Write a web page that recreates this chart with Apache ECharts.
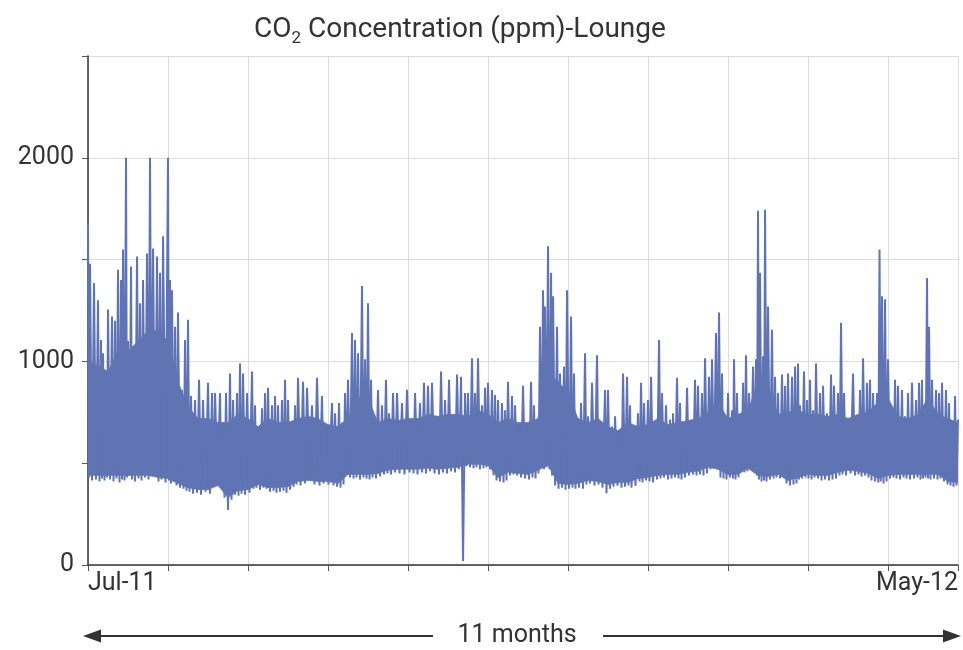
<!DOCTYPE html>
<html><head><meta charset="utf-8">
<script src="https://cdn.jsdelivr.net/npm/echarts/dist/echarts.min.js"></script>
<style>html,body{margin:0;padding:0;background:#fff}#c{width:963px;height:650px}</style>
</head><body><div id="c"></div>
<script>
// time of each daily peak, in months since the start of Jul-11
const peakMonth = [
0.000,0.025,0.075,0.125,0.163,0.188,0.225,0.250,0.300,0.338,
0.375,0.413,0.438,0.475,0.500,0.538,0.563,0.613,0.650,0.688,
0.738,0.775,0.813,0.863,0.900,0.938,1.000,1.025,1.050,1.088,
1.125,1.175,1.213,1.250,1.288,1.338,1.388,1.438,1.500,1.550,
1.588,1.650,1.688,1.725,1.775,1.813,1.863,1.900,1.938,1.988,
2.050,2.088,2.125,2.175,2.213,2.250,2.300,2.338,2.375,2.425,
2.463,2.500,2.550,2.588,2.625,2.688,2.738,2.800,2.863,2.925,
2.963,3.050,3.088,3.138,3.175,3.213,3.250,3.300,3.338,3.375,
3.425,3.463,3.500,3.538,3.575,3.625,3.675,3.725,3.763,3.813,
3.863,3.925,3.988,4.050,4.088,4.150,4.200,4.250,4.300,4.363,
4.413,4.463,4.513,4.563,4.613,4.663,4.713,4.750,4.800,4.838,
4.875,4.925,4.963,5.000,5.050,5.088,5.125,5.175,5.213,5.250,
5.300,5.338,5.388,5.438,5.488,5.538,5.575,5.613,5.650,5.688,
5.713,5.750,5.788,5.813,5.863,5.900,5.950,5.988,6.038,6.075,
6.113,6.163,6.213,6.250,6.300,6.363,6.400,6.463,6.500,6.550,
6.588,6.650,6.688,6.738,6.775,6.813,6.875,6.913,6.950,7.000,
7.038,7.088,7.138,7.175,7.225,7.275,7.313,7.363,7.400,7.438,
7.488,7.538,7.588,7.625,7.675,7.713,7.763,7.800,7.850,7.888,
7.925,7.963,8.000,8.050,8.075,8.113,8.150,8.188,8.225,8.263,
8.313,8.350,8.375,8.400,8.438,8.463,8.500,8.550,8.588,8.625,
8.675,8.713,8.750,8.800,8.838,8.875,8.900,8.950,8.988,9.025,
9.063,9.100,9.150,9.188,9.238,9.288,9.325,9.375,9.413,9.450,
9.500,9.563,9.613,9.650,9.688,9.738,9.775,9.813,9.863,9.894,
9.925,9.963,10.000,10.050,10.088,10.125,10.175,10.213,10.250,10.300,
10.350,10.388,10.425,10.450,10.488,10.513,10.550,10.600,10.638,10.675,
10.725,10.763,10.800,10.838,10.875
];
// CO2 peak of each cycle (ppm)
const peakPpm = [
1680,1480,1385,1300,1105,1040,940,1255,1220,1200,
1450,1400,1550,2000,1100,1465,975,1515,1285,1400,
1530,2000,1555,1515,1435,1615,2000,1400,1350,1170,
1240,860,1105,1205,830,810,910,810,895,845,
845,845,700,845,940,810,845,990,940,845,
950,785,640,770,845,870,785,830,785,810,
910,810,540,785,920,900,870,785,920,830,
665,795,745,795,700,845,910,1140,1105,1040,
1370,1010,1285,910,615,860,785,910,745,845,
845,795,860,680,845,795,895,880,895,700,
950,810,910,730,935,925,845,845,1015,845,
1015,785,870,895,860,835,810,795,760,900,
830,785,680,880,630,900,785,700,1170,1350,
1270,1565,1435,1320,1170,940,975,1350,1220,940,
700,795,1040,730,895,1030,700,860,860,680,
730,665,940,925,785,615,745,895,795,810,
925,700,1105,845,785,715,745,920,795,700,
870,700,910,880,845,1015,925,1010,1140,1240,
940,700,845,760,1010,845,700,895,1030,845,
975,1010,1740,1435,1025,1745,1270,1155,925,845,
935,880,940,925,975,990,785,950,810,910,
760,990,845,880,745,935,880,845,1190,845,
715,940,730,860,1015,895,910,845,845,1550,
1320,1305,1010,745,910,880,860,730,845,895,
810,895,910,680,1410,1170,910,860,845,895,
860,795,700,830,715
];
// CO2 low between consecutive peaks (ppm)
const troughPpm = [
430,415,420,410,425,415,430,420,410,425,
405,420,415,430,460,420,410,425,415,430,
420,475,440,410,420,405,415,400,410,390,
380,375,365,360,350,355,345,360,350,390,
395,385,330,270,320,345,340,350,345,355,
375,380,370,380,375,360,365,355,360,365,
355,370,385,395,390,400,460,395,390,400,
395,390,385,380,395,460,430,425,430,420,
430,425,420,430,425,435,445,450,445,455,
450,445,455,450,445,455,450,460,450,445,
455,450,460,455,470,20,485,480,475,480,
470,475,480,470,440,415,410,405,415,440,
445,440,430,425,420,430,425,450,475,470,
480,470,440,390,375,380,370,375,380,375,
380,375,395,400,390,395,380,352,375,385,
390,380,385,390,380,390,410,405,415,410,
405,420,425,430,420,425,430,425,420,430,
440,445,440,445,440,450,470,475,470,430,
425,420,430,425,420,430,460,455,460,465,
455,440,420,410,415,410,420,425,430,425,
430,400,390,395,400,420,425,430,425,420,
430,425,415,420,415,420,425,440,445,440,
450,440,445,435,440,430,415,410,405,410,
400,410,425,430,425,420,430,425,420,425,
430,420,425,430,425,420,425,420,425,410,
395,390,385,390
];
// solid body of the trace, read every eighth of a month from Jul-11
const coreStepMonth = 0.125;
const coreHighPpm = [
1000,980,950,1050,1050,1100,1150,1150,1100,900,
780,720,720,700,700,740,720,680,720,700,
700,720,730,720,690,680,720,820,820,700,
720,710,720,720,740,730,740,740,730,760,
740,700,720,700,700,720,950,900,850,720,
700,720,680,660,700,680,690,720,690,700,
710,720,750,800,720,740,760,900,880,740,
750,760,740,740,730,740,720,740,750,800,
820,730,720,740,820,740,720,700
];
const coreLowPpm = [
440,440,440,440,440,440,440,430,425,400,
380,370,370,390,330,365,370,395,380,380,
385,410,415,410,410,400,445,445,445,450,
465,470,470,470,475,470,475,480,495,495,
490,430,455,450,445,465,490,400,395,400,
415,410,395,405,405,425,430,440,445,445,
455,460,480,470,445,445,475,440,435,445,
415,430,445,440,440,455,465,460,450,425,
440,445,445,445,445,445,410,405
];
const yLabelValues = [0, 1000, 2000];
const xFirstLabel = 'Jul-11';
const xLastLabel = 'May-12';
const spanText = '11 months';
const titleMain = 'CO';
const titleSub = '2';
const titleRest = ' Concentration (ppm)-Lounge';

const FONT = 'Roboto, "Liberation Sans", sans-serif';
const BLUE = '#6074b4';
const lineData = [];
for (let i = 0; i < peakMonth.length; i++) {
  lineData.push([peakMonth[i], peakPpm[i]]);
  if (i < troughPpm.length) lineData.push([(peakMonth[i] + peakMonth[i + 1]) / 2, troughPpm[i]]);
}
// each band piece joins two consecutive readings of the solid body
const bandData = [];
for (let i = 0; i < coreHighPpm.length - 1; i++) {
  bandData.push([i * coreStepMonth, coreLowPpm[i], coreHighPpm[i],
                 (i + 1) * coreStepMonth, coreLowPpm[i + 1], coreHighPpm[i + 1]]);
}
const xMax = peakMonth[peakMonth.length - 1];

const chart = echarts.init(document.getElementById('c'), null, {renderer: 'canvas'});
chart.setOption({
  animation: false,
  backgroundColor: '#fff',
  title: {
    left: 249, top: 8,
    text: '{a|' + titleMain + '}{s|' + titleSub + '}{a|' + titleRest + '}',
    textStyle: {
      fontWeight: 'normal',
      rich: {
        a: {fontFamily: FONT, fontSize: 28, fontWeight: 'normal', color: '#333', lineHeight: 34},
        s: {fontFamily: FONT, fontSize: 17, fontWeight: 'normal', color: '#333', lineHeight: 15, verticalAlign: 'bottom'}
      }
    }
  },
  grid: {left: 88, right: 5, top: 56, bottom: 85, containLabel: false, outerBoundsMode: 'none'},
  xAxis: {
    type: 'value', min: 0, max: xMax, interval: 1,
    axisLine: {show: true, lineStyle: {color: '#333', width: 1.5}},
    axisTick: {show: true, length: 6, lineStyle: {color: '#555'}},
    splitLine: {show: true, lineStyle: {color: '#dcdcdc', width: 1}},
    axisLabel: {
      show: true, margin: 6, fontFamily: FONT, fontSize: 25, color: '#333',
      showMinLabel: true, showMaxLabel: true,
      alignMinLabel: 'left', alignMaxLabel: 'right',
      formatter: function (v) {
        if (Math.abs(v) < 1e-6) return xFirstLabel;
        if (Math.abs(v - xMax) < 1e-6) return xLastLabel;
        return '';
      }
    }
  },
  yAxis: {
    type: 'value', min: 0, max: 2500, interval: 500,
    axisLine: {show: true, lineStyle: {color: '#333', width: 1.5}},
    axisTick: {show: true, length: 6, lineStyle: {color: '#555'}},
    splitLine: {show: true, lineStyle: {color: '#dcdcdc', width: 1}},
    axisLabel: {
      margin: 14, fontFamily: FONT, fontSize: 25, color: '#333',
      formatter: function (v) { return yLabelValues.indexOf(v) >= 0 ? String(v) : ''; }
    }
  },
  series: [
    {
      type: 'custom', data: bandData, silent: true, clip: true,
      encode: {x: [0, 3], y: [1, 2, 4, 5]},
      renderItem: function (params, api) {
        const a = api.coord([api.value(0), api.value(1)]);
        const b = api.coord([api.value(0), api.value(2)]);
        const c = api.coord([api.value(3), api.value(5)]);
        const d = api.coord([api.value(3), api.value(4)]);
        return {type: 'polygon', shape: {points: [a, b, c, d]},
                style: {fill: BLUE, stroke: BLUE, lineWidth: 0.6}};
      }
    },
    {type: 'line', data: lineData, showSymbol: false, symbol: 'none',
     lineStyle: {color: BLUE, width: 2.0}, silent: true, clip: true}
  ],
  graphic: [
    {type: 'line', shape: {x1: 96, y1: 636, x2: 433, y2: 636}, style: {stroke: '#333', lineWidth: 2}},
    {type: 'polygon', shape: {points: [[83, 636], [101, 629.5], [101, 642.5]]}, style: {fill: '#333'}},
    {type: 'line', shape: {x1: 603, y1: 636, x2: 946, y2: 636}, style: {stroke: '#333', lineWidth: 2}},
    {type: 'polygon', shape: {points: [[961, 636], [943, 629.5], [943, 642.5]]}, style: {fill: '#333'}},
    {type: 'text', x: 517, y: 636, style: {text: spanText, font: '25px ' + FONT, fill: '#333', textAlign: 'center', textVerticalAlign: 'middle'}}
  ]
});
</script>
</body></html>
